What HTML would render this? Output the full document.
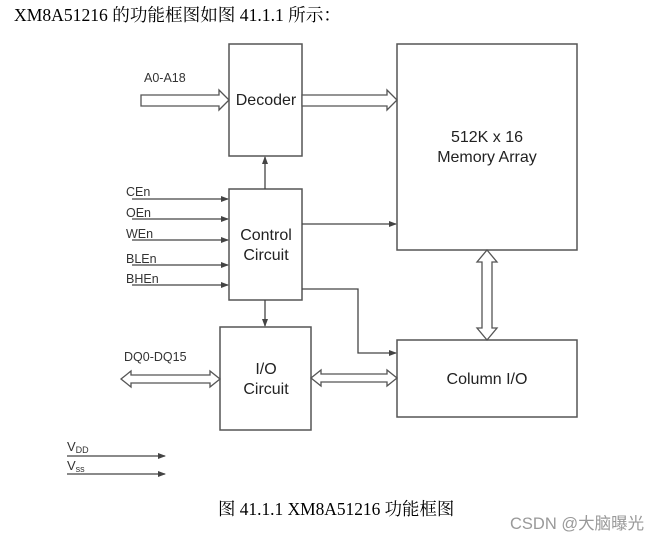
<!DOCTYPE html>
<html><head><meta charset="utf-8"><style>
html,body{margin:0;padding:0;background:#fff;width:662px;height:539px;overflow:hidden}
svg{display:block}
</style></head><body>
<svg width="662" height="539" viewBox="0 0 662 539" xmlns="http://www.w3.org/2000/svg">
<defs>
<marker id="ah" markerWidth="8" markerHeight="6" refX="7" refY="3" orient="auto" markerUnits="userSpaceOnUse">
<path d="M0,0 L8,3 L0,6 Z" fill="#444"/>
</marker>
</defs>
<text x="14" y="21" font-family="Liberation Serif, Noto Serif CJK SC, serif" font-size="17.6" fill="#000">XM8A51216 的功能框图如图 41.1.1 所示：</text>

<g fill="#fff" stroke="#555" stroke-width="1.5">
<rect x="229" y="44" width="73" height="112"/>
<rect x="229" y="189" width="73" height="111"/>
<rect x="220" y="327" width="91" height="103"/>
<rect x="397" y="44" width="180" height="206"/>
<rect x="397" y="340" width="180" height="77"/>
</g>

<g font-family="Liberation Sans, sans-serif" fill="#222" text-anchor="middle">
<text x="266" y="105" font-size="16">Decoder</text>
<text x="266" y="240" font-size="16">Control</text>
<text x="266" y="260" font-size="16">Circuit</text>
<text x="266" y="374" font-size="16">I/O</text>
<text x="266" y="394" font-size="16">Circuit</text>
<text x="487" y="142" font-size="16">512K x 16</text>
<text x="487" y="162" font-size="16">Memory Array</text>
<text x="487" y="384" font-size="16">Column I/O</text>
</g>

<g fill="#fff" stroke="#555" stroke-width="1.3">
<path d="M141,95 L219,95 L219,90 L229,100 L219,110 L219,106 L141,106 Z"/>
<path d="M302,95 L387,95 L387,90 L397,100 L387,110 L387,106 L302,106 Z"/>
<path d="M121,379 L131,371 L131,375 L210,375 L210,371 L220,379 L210,387 L210,383 L131,383 L131,387 Z"/>
<path d="M311,378 L321,370 L321,374 L387,374 L387,370 L397,378 L387,386 L387,382 L321,382 L321,386 Z"/>
<path d="M487,250 L497,262 L492,262 L492,328 L497,328 L487,340 L477,328 L482,328 L482,262 L477,262 Z"/>
</g>

<g stroke="#444" stroke-width="1.3" fill="none" marker-end="url(#ah)">
<line x1="265" y1="189" x2="265" y2="157"/>
<line x1="265" y1="300" x2="265" y2="326"/>
<line x1="302" y1="224" x2="396" y2="224"/>
<polyline points="302,289 358,289 358,353 396,353"/>
<line x1="132" y1="199" x2="228" y2="199"/>
<line x1="132" y1="219" x2="228" y2="219"/>
<line x1="132" y1="240" x2="228" y2="240"/>
<line x1="132" y1="265" x2="228" y2="265"/>
<line x1="132" y1="285" x2="228" y2="285"/>
<line x1="67" y1="456" x2="165" y2="456"/>
<line x1="67" y1="474" x2="165" y2="474"/>
</g>

<g font-family="Liberation Sans, sans-serif" fill="#333" font-size="12.5">
<text x="144" y="82">A0-A18</text>
<text x="126" y="196">CEn</text>
<text x="126" y="217">OEn</text>
<text x="126" y="238">WEn</text>
<text x="126" y="263">BLEn</text>
<text x="126" y="283">BHEn</text>
<text x="124" y="361">DQ0-DQ15</text>
<text x="67" y="451" font-size="13">V<tspan font-size="9" dy="2">DD</tspan></text>
<text x="67" y="470" font-size="13">V<tspan font-size="9" dy="2">ss</tspan></text>
</g>

<text x="218" y="515" font-family="Liberation Serif, Noto Serif CJK SC, serif" font-size="17.4" fill="#000">图 41.1.1 XM8A51216 功能框图</text>
<text x="510" y="529" font-family="Liberation Sans, Noto Sans CJK SC, sans-serif" font-size="16.5" fill="#999">CSDN @大脑曝光</text>
</svg>
</body></html>
